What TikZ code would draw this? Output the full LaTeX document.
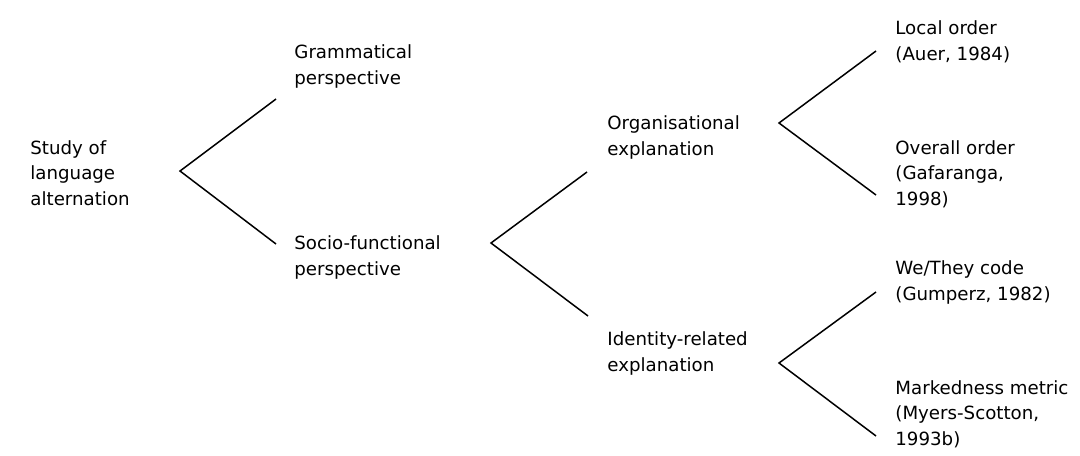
\documentclass[tikz,border=0pt]{standalone}
\usepackage{fontspec}
\setmainfont{DejaVu Sans}
\usetikzlibrary{positioning}

\begin{document}
\begin{tikzpicture}[
      x=0.5pt, y=-0.5pt,
      every node/.style={anchor=base west, inner sep=0pt, align=left,
        font=\fontsize{9.1}{12.75}\selectfont},
      branch/.style={line width=0.75pt, line join=miter}
    ]
      \useasboundingbox (0,0) rectangle (1080,455);

      % level 0 and 1 (placed at the baseline of the last line)
      \node (study) at (30,205) {Study of\\language\\alternation};
      \node (gram) at (294,84) {Grammatical\\perspective};
      \node (socio) at (294,275) {Socio-functional\\perspective};

      % level 2
      \node (organ) at (607,155) {Organisational\\explanation};
      \node (ident) at (607,371) {Identity-related\\explanation};

      % level 3
      \node (local) at (895,60) {Local order\\(Auer, 1984)};
      \node (overall) at (895,205) {Overall order\\(Gafaranga,\\1998)};
      \node (wethey) at (895,300) {We/They code\\(Gumperz, 1982)};
      \node (marked) at (895,445) {Markedness metric\\(Myers-Scotton,\\1993b)};

      % forks
      \coordinate (s0) at (180,171);
      \coordinate (s1) at (276,99);
      \coordinate (s2) at (276,244);
      \coordinate (f0) at (491,243);
      \coordinate (f1) at (587,172);
      \coordinate (f2) at (588,316);
      \coordinate (o0) at (779,123);
      \coordinate (o1) at (876,51);
      \coordinate (o2) at (876,195);
      \coordinate (i0) at (779,363);
      \coordinate (i1) at (876,292);
      \coordinate (i2) at (876,436);

      \draw[branch] (s1) -- (s0) -- (s2);
      \draw[branch] (f1) -- (f0) -- (f2);
      \draw[branch] (o1) -- (o0) -- (o2);
      \draw[branch] (i1) -- (i0) -- (i2);
    \end{tikzpicture}
\end{document}
